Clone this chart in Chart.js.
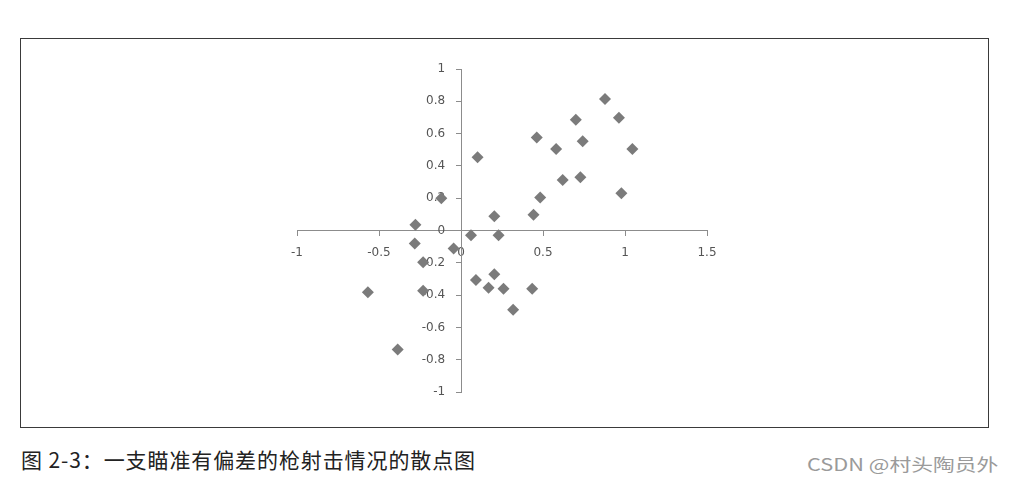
<!DOCTYPE html>
<html>
<head>
<meta charset="utf-8">
<script src="https://cdn.jsdelivr.net/npm/chart.js@4/dist/chart.umd.min.js"></script>
<style>
body{margin:0;background:#fff;width:1019px;height:481px;overflow:hidden;position:relative;}
#frame{position:absolute;left:20px;top:38px;width:967px;height:388px;border:1px solid #3a3a3a;}
#frame canvas{position:absolute;left:0;top:0;}
#caption{position:absolute;left:21px;top:444px;font-family:"Noto Sans CJK SC";font-size:21px;color:#222;white-space:nowrap;letter-spacing:0.9px;}
#mark{position:absolute;left:807px;top:451px;font-family:"Noto Sans CJK SC";font-size:17px;color:#9a9a9a;white-space:nowrap;transform:scaleX(1.28);transform-origin:0 0;}
</style>
</head>
<body>
<div id="frame"><canvas id="grafico_dispersion" width="967" height="388"></canvas></div>
<div id="caption">图 2-3：一支瞄准有偏差的枪射击情况的散点图</div>
<div id="mark">CSDN @村头陶员外</div>
<script>
// disparos (x, y)
var disparos_x = [0.878, 0.963, 0.700, 0.462, 0.742, 0.580, 1.045, 0.101, 0.620, 0.728,
	0.978, 0.483, 0.203, 0.442, 0.061, 0.229, -0.120, -0.278, -0.282, -0.045,
	-0.231, -0.568, -0.231, -0.386, 0.091, 0.203, 0.168, 0.259, 0.434, 0.318];
var disparos_y = [0.814, 0.698, 0.686, 0.576, 0.553, 0.505, 0.505, 0.454, 0.313, 0.329,
	0.230, 0.205, 0.089, 0.098, -0.029, -0.029, 0.199, 0.035, -0.081, -0.112,
	-0.196, -0.383, -0.373, -0.737, -0.306, -0.271, -0.354, -0.360, -0.360, -0.491];
var ticks_x = [-1, -0.5, 0, 0.5, 1, 1.5];
var ticks_y = [-1, -0.8, -0.6, -0.4, -0.2, 0, 0.2, 0.4, 0.6, 0.8, 1];

var puntos = [];
for (var i = 0; i < disparos_x.length; i++) {
	puntos.push({x: disparos_x[i], y: disparos_y[i]});
}

function formato_tick(v){
	var r = Math.round(v * 10) / 10;
	return String(r);
}

var grid_comun = {display: true, drawOnChartArea: false, drawTicks: true, tickLength: 5, color: '#8c8c8c', lineWidth: 1};
var borde_comun = {display: true, color: '#8c8c8c', width: 1};
var fuente_ticks = {family: 'DejaVu Sans', size: 12};

new Chart(document.getElementById('grafico_dispersion'), {
	type: 'scatter',
	data: {
		datasets: [{
			label: 'disparos',
			data: puntos,
			pointStyle: 'rectRot',
			pointRadius: 6,
			pointHoverRadius: 6,
			backgroundColor: '#7b7b7b',
			borderColor: '#7b7b7b',
			borderWidth: 0
		}]
	},
	options: {
		responsive: false,
		animation: false,
		events: [],
		layout: {padding: {left: 276, right: 281, top: 30, bottom: 35}},
		plugins: {legend: {display: false}, tooltip: {enabled: false}},
		scales: {
			x: {
				type: 'linear', min: -1, max: 1.5, position: {y: 0},
				grid: grid_comun, border: borde_comun,
				afterBuildTicks: function(s){ s.ticks = ticks_x.map(function(v){ return {value: v}; }); },
				ticks: {color: '#555', font: fuente_ticks, padding: 10, maxRotation: 0, callback: formato_tick}
			},
			y: {
				type: 'linear', min: -1, max: 1, position: {x: 0},
				grid: grid_comun, border: borde_comun,
				afterBuildTicks: function(s){ s.ticks = ticks_y.map(function(v){ return {value: v}; }); },
				// el eje centrado no respeta padding, se separa la etiqueta con espacios
				ticks: {color: '#555', font: fuente_ticks, callback: function(v){ return formato_tick(v) + ' \u2002\u2002'; }}
			}
		}
	}
});
</script>
</body>
</html>
